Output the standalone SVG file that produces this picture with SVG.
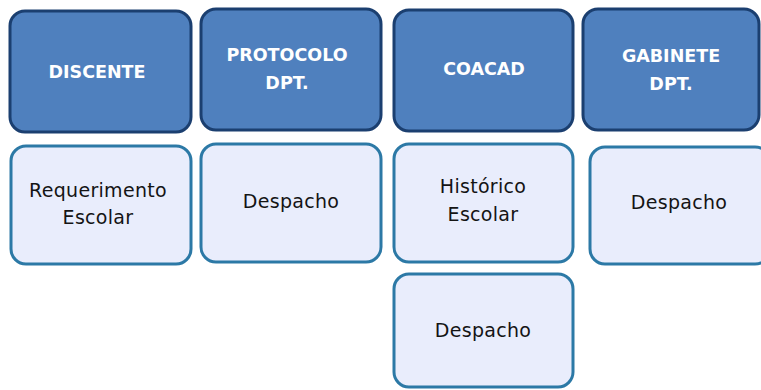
<svg xmlns="http://www.w3.org/2000/svg" width="761" height="390" viewBox="0 0 761 390">
  <style>
    .hdr { fill: #4F80BE; stroke: #1B3F70; stroke-width: 3; }
    .itm { fill: #E9EDFC; stroke: #2C79A6; stroke-width: 3; }
    .ht { font-family: "DejaVu Sans", Verdana, sans-serif; font-weight: bold; font-size: 17.5px; fill: #FFFFFF; text-anchor: middle; }
    .it { font-family: "DejaVu Sans", Verdana, sans-serif; font-size: 19px; fill: #141414; text-anchor: middle; letter-spacing: 0.3px; }
  </style>
  <rect width="761" height="390" fill="#FFFFFF"/>
  <g id="connectors"/>
  <g id="discente">
    <rect class="hdr" x="10" y="11" width="181" height="121" rx="15"/>
    <text class="ht" x="97" y="77.5">DISCENTE</text>
  </g>
  <g id="protocolo">
    <rect class="hdr" x="201" y="9" width="180" height="121" rx="15"/>
    <text class="ht" x="287" y="61">PROTOCOLO</text>
    <text class="ht" x="287" y="89">DPT.</text>
  </g>
  <g id="coacad">
    <rect class="hdr" x="394" y="10" width="179" height="121" rx="15"/>
    <text class="ht" x="484" y="75">COACAD</text>
  </g>
  <g id="gabinete">
    <rect class="hdr" x="583" y="9" width="176" height="121" rx="15"/>
    <text class="ht" x="671" y="62">GABINETE</text>
    <text class="ht" x="671" y="90">DPT.</text>
  </g>
  <g id="requerimento">
    <rect class="itm" x="11" y="146" width="180" height="118" rx="15"/>
    <text class="it" x="98" y="196.5">Requerimento</text>
    <text class="it" x="98" y="224">Escolar</text>
  </g>
  <g id="despacho-protocolo">
    <rect class="itm" x="201" y="144" width="180" height="118" rx="15"/>
    <text class="it" x="291" y="208">Despacho</text>
  </g>
  <g id="historico">
    <rect class="itm" x="394" y="144" width="179" height="118" rx="15"/>
    <text class="it" x="483" y="193">Histórico</text>
    <text class="it" x="483" y="220.5">Escolar</text>
  </g>
  <g id="despacho-gabinete">
    <rect class="itm" x="590" y="147" width="180" height="117" rx="15"/>
    <text class="it" x="679" y="209">Despacho</text>
  </g>
  <g id="despacho-coacad">
    <rect class="itm" x="394" y="274" width="179" height="113" rx="15"/>
    <text class="it" x="483" y="337">Despacho</text>
  </g>
</svg>
